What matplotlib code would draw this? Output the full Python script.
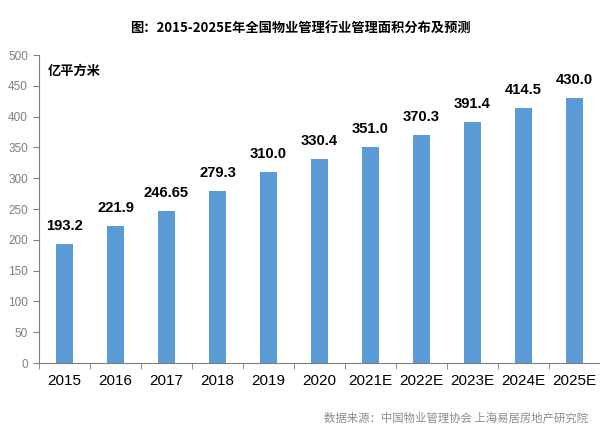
import matplotlib
matplotlib.use("Agg")
import matplotlib.pyplot as plt
import numpy as np

categories = ["2015", "2016", "2017", "2018", "2019", "2020",
              "2021E", "2022E", "2023E", "2024E", "2025E"]
values = [193.2, 221.9, 246.65, 279.3, 310.0, 330.4, 351.0, 370.3, 391.4, 414.5, 430.0]
value_labels = ["193.2", "221.9", "246.65", "279.3", "310.0", "330.4",
                "351.0", "370.3", "391.4", "414.5", "430.0"]
y_ticks = [0, 50, 100, 150, 200, 250, 300, 350, 400, 450, 500]

title = "图：2015-2025E年全国物业管理行业管理面积分布及预测"
unit = "亿平方米"
source = "数据来源：中国物业管理协会 上海易居房地产研究院"

plt.rcParams['font.family'] = ['Liberation Sans', 'Noto Sans CJK SC', 'DejaVu Sans']

fig = plt.figure(figsize=(6.0, 4.34), dpi=100)
ax = fig.add_axes([39/600, 1-363/434, 561/600, 308/434])

x = np.arange(len(categories))
ax.bar(x, values, width=0.33, color="#5B9BD5", zorder=2)

for xi, v, s in zip(x, values, value_labels):
    ax.annotate(s, (xi, v), xytext=(0, 8), textcoords="offset points",
                ha="center", va="bottom", fontsize=10.6, fontweight="bold",
                color="#000000")

ax.set_xlim(-0.5, len(categories) - 0.5)
ax.set_ylim(0, 500)
ax.set_yticks(y_ticks)
ax.set_yticklabels([str(t) for t in y_ticks], color="#7f7f7f", fontsize=8.5)
ax.set_xticks(x)
ax.set_xticklabels(categories, fontsize=11, color="#000000")
ax.tick_params(axis="x", length=0, pad=8)
ax.set_xticks(np.arange(-0.5, len(categories)), minor=True)
ax.tick_params(axis="x", which="minor", length=4, color="#7f7f7f", direction="out")
ax.tick_params(axis="y", length=4, color="#7f7f7f", direction="out", pad=4)

for side in ["top", "right"]:
    ax.spines[side].set_visible(False)
ax.spines["left"].set_color("#7f7f7f")
ax.spines["bottom"].set_color("#7f7f7f")

ax.text(0.015, 0.95, unit, transform=ax.transAxes, fontsize=9.5, fontweight="bold",
        family=['Noto Sans CJK SC'], va="center", ha="left")

fig.text(0.5, 1-28/434, title, ha="center", va="center", fontsize=9.5,
         fontweight="bold", family=['Noto Sans CJK SC'])
fig.text(588/600, 1-418/434, source, ha="right", va="center", fontsize=8.2,
         color="#8c8c8c", family=['Noto Sans CJK SC'])

fig.savefig("out.png", dpi=100)
